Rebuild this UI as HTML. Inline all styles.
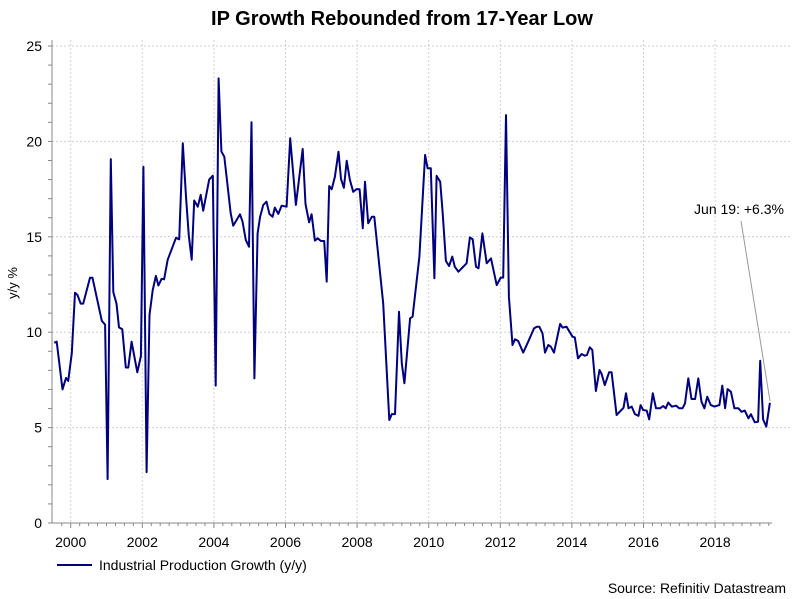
<!DOCTYPE html>
<html><head><meta charset="utf-8"><style>
html,body{margin:0;padding:0;background:#fff;}
svg{display:block;font-family:"Liberation Sans",Arial,sans-serif;}
</style></head><body>
<svg id="chart" width="804" height="599" viewBox="0 0 804 599">
<text x="402" y="25" text-anchor="middle" font-size="20" font-weight="bold" fill="#000">IP Growth Rebounded from 17-Year Low</text>
<text transform="translate(17,283) rotate(-90)" text-anchor="middle" font-size="13" fill="#000">y/y %</text>
<g id="grid"></g>
<g id="axes"></g>
<path id="series" fill="none" stroke="#00007f" stroke-width="2" stroke-linejoin="round"/>
<line x1="741" y1="221" x2="770" y2="401" stroke="#999" stroke-width="1"/>
<text x="739" y="214" text-anchor="middle" font-size="14" fill="#000">Jun 19: +6.3%</text>
<line x1="57" y1="565" x2="92" y2="565" stroke="#00007f" stroke-width="2"/>
<text x="99" y="570" font-size="14" fill="#000">Industrial Production Growth (y/y)</text>
<text x="786" y="593" text-anchor="end" font-size="14" fill="#000">Source: Refinitiv Datastream</text>
</svg>
<script>
const dates=[1999.54,1999.61,1999.77,1999.87,1999.93,2000.03,2000.12,2000.19,2000.28,2000.35,2000.54,2000.61,2000.87,2000.96,2001.03,2001.12,2001.19,2001.28,2001.35,2001.44,2001.54,2001.61,2001.70,2001.86,2001.96,2002.03,2002.12,2002.20,2002.29,2002.38,2002.45,2002.54,2002.61,2002.71,2002.94,2003.03,2003.13,2003.22,2003.30,2003.38,2003.45,2003.55,2003.63,2003.70,2003.87,2003.97,2004.05,2004.13,2004.21,2004.29,2004.47,2004.54,2004.73,2004.80,2004.89,2004.98,2005.05,2005.13,2005.22,2005.29,2005.38,2005.47,2005.55,2005.64,2005.70,2005.80,2005.89,2006.03,2006.13,2006.29,2006.48,2006.56,2006.66,2006.73,2006.82,2006.90,2006.99,2007.08,2007.15,2007.22,2007.29,2007.38,2007.48,2007.55,2007.63,2007.71,2007.80,2007.89,2007.99,2008.07,2008.16,2008.22,2008.31,2008.41,2008.48,2008.73,2008.90,2008.97,2009.06,2009.17,2009.25,2009.32,2009.48,2009.55,2009.74,2009.90,2009.97,2010.06,2010.16,2010.22,2010.32,2010.39,2010.48,2010.57,2010.66,2010.73,2010.83,2011.06,2011.15,2011.23,2011.32,2011.39,2011.50,2011.62,2011.74,2011.90,2012.01,2012.08,2012.16,2012.24,2012.34,2012.41,2012.50,2012.64,2012.78,2012.94,2013.02,2013.09,2013.18,2013.25,2013.34,2013.41,2013.50,2013.67,2013.74,2013.85,2014.02,2014.08,2014.17,2014.27,2014.36,2014.42,2014.50,2014.57,2014.67,2014.77,2014.83,2014.92,2015.04,2015.11,2015.25,2015.44,2015.51,2015.58,2015.67,2015.76,2015.86,2015.92,2015.99,2016.09,2016.16,2016.26,2016.35,2016.46,2016.55,2016.62,2016.69,2016.79,2016.91,2017.00,2017.09,2017.16,2017.25,2017.34,2017.44,2017.53,2017.62,2017.70,2017.78,2017.88,2017.98,2018.12,2018.20,2018.28,2018.35,2018.44,2018.54,2018.65,2018.74,2018.83,2018.93,2019.00,2019.11,2019.20,2019.26,2019.34,2019.43,2019.53];
const values=[9.45,9.5,7.0,7.6,7.45,8.9,12.07,11.95,11.5,11.5,12.85,12.85,10.6,10.4,2.3,19.07,12.1,11.5,10.25,10.15,8.15,8.15,9.5,7.9,8.75,18.67,2.67,10.9,12.2,12.95,12.45,12.8,12.77,13.8,14.95,14.87,19.9,17.1,15.06,13.8,16.9,16.58,17.2,16.37,18.0,18.2,7.2,23.3,19.47,19.2,16.23,15.58,16.18,15.8,14.83,14.48,21.0,7.58,15.18,16.05,16.67,16.84,16.2,16.05,16.53,16.2,16.63,16.58,20.16,16.67,19.6,16.72,15.76,16.18,14.8,14.92,14.78,14.78,12.65,17.66,17.49,18.15,19.46,18.03,17.57,18.99,17.98,17.36,17.5,17.49,15.45,17.89,15.71,16.05,16.05,11.51,5.4,5.71,5.71,11.07,8.37,7.32,10.73,10.81,13.96,19.29,18.59,18.59,12.83,18.19,17.89,16.23,13.73,13.47,13.96,13.43,13.17,13.61,14.97,14.87,13.43,13.35,15.18,13.61,13.87,12.47,12.86,12.86,21.38,11.86,9.33,9.63,9.54,8.93,9.5,10.2,10.29,10.29,9.94,8.93,9.33,9.24,8.93,10.43,10.24,10.29,9.76,9.73,8.63,8.86,8.77,8.8,9.21,9.07,6.92,8.02,7.81,7.23,7.9,7.9,5.66,6.04,6.8,6.01,6.1,5.71,5.62,6.18,5.92,5.89,5.43,6.8,6.01,6.01,6.13,6.01,6.31,6.1,6.15,6.01,6.01,6.27,7.58,6.5,6.5,7.58,6.36,6.01,6.62,6.18,6.1,6.18,7.2,6.01,7.02,6.88,6.01,6.01,5.83,5.89,5.49,5.7,5.28,5.31,8.5,5.43,5.05,6.3];
const yTicks=[0,5,10,15,20,25];
const xTickYears=[2000,2002,2004,2006,2008,2010,2012,2014,2016,2018];

const NS="http://www.w3.org/2000/svg";
const X0=52,X1=772,Y0=523,GR=792;
const xs=y=>70.7+(y-2000)*35.8;
const ys=v=>Y0-v*19.08;
const grid=document.getElementById('grid'),axes=document.getElementById('axes');
function mk(tag,attrs,parent){const e=document.createElementNS(NS,tag);for(const k in attrs)e.setAttribute(k,attrs[k]);parent.appendChild(e);return e;}
yTicks.forEach(v=>{
  if(v>0){const g=mk('line',{x1:X0,x2:GR,y1:ys(v),y2:ys(v),stroke:'#d0d0d0','stroke-dasharray':'2,2'},grid);
  
  }
  const t=mk('text',{x:42,y:ys(v)+5,'text-anchor':'end','font-size':14,fill:'#000'},axes);
  t.textContent=v;
  
  
});
xTickYears.forEach(yr=>{
  const g=mk('line',{x1:xs(yr),x2:xs(yr),y1:40,y2:Y0,stroke:'#d0d0d0','stroke-dasharray':'2,2'},grid);
  
  
  const t=mk('text',{x:xs(yr),y:547,'text-anchor':'middle','font-size':14,fill:'#000'},axes);
  t.textContent=yr;
  
  
});
const ya=mk('line',{x1:X0,x2:X0,y1:40,y2:Y0,stroke:'#888'},axes);


const xa=mk('line',{x1:X0,x2:X1,y1:Y0,y2:Y0,stroke:'#888'},axes);


for(let v=0;v<=25;v++){mk('line',{x1:X0-4,x2:X0,y1:ys(v),y2:ys(v),stroke:'#888'},axes);}
for(let q=1999.75;q<=2019.5;q+=0.25){const big=Math.abs(q-Math.round(q))<0.01&&Math.round(q)%2===0;mk('line',{x1:xs(q),x2:xs(q),y1:Y0,y2:Y0+(big?5:3),stroke:'#888'},axes);}
let d='';
dates.forEach((t,i)=>{d+=(i?'L':'M')+xs(t).toFixed(1)+','+ys(values[i]).toFixed(1);});
document.getElementById('series').setAttribute('d',d);
</script>
</body></html>
